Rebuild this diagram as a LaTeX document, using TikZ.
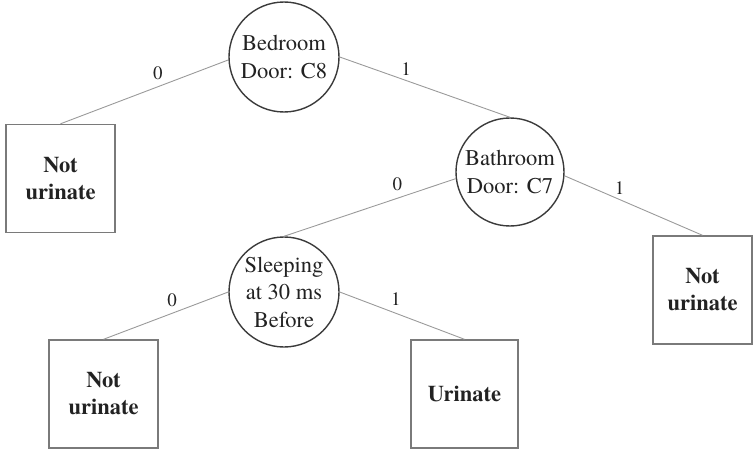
\documentclass[tikz,border=0pt]{standalone}
\usepackage{fontspec}
\setmainfont{texgyretermes}[Extension=.otf, UprightFont=*-regular, BoldFont=*-bold, ItalicFont=*-italic, BoldItalicFont=*-bolditalic]
\definecolor{edgegray}{HTML}{9A9A9A}
\definecolor{circgray}{HTML}{3A3A3A}
\definecolor{boxgray}{HTML}{7A7A7A}
\definecolor{txtgray}{HTML}{222222}
\tikzset{
  decnode/.style={circle, draw=circgray, line width=1.4pt, minimum size=110pt, inner sep=0pt,
    align=center, text=txtgray, font=\fontsize{22.5}{27.5}\selectfont},
  leafnode/.style={rectangle, draw=boxgray, line width=1.4pt, minimum width=109pt, minimum height=108pt,
    inner sep=0pt, align=center, text=txtgray, font=\fontsize{22.5}{27}\selectfont\bfseries},
  conn/.style={draw=edgegray, line width=0.9pt},
  lbl/.style={text=txtgray, font=\fontsize{19}{22}\selectfont, inner sep=2pt}
}
\begin{document}
\begin{tikzpicture}[x=1pt,y=-1pt]
\useasboundingbox (0,0) rectangle (753,452);
\node[decnode] (bed) at (284,57) {Bedroom\\Door: C8};
\node[decnode, minimum size=108pt] (bath) at (510,172) {Bathroom\\Door: C7};
\node[decnode] (sleep) at (284,292) {Sleeping\\at 30 ms\\Before};
\node[leafnode] (nu1) at (60.5,178.5) {Not\\urinate};
\node[leafnode, minimum width=99pt] (nu2) at (702.5,290) {Not\\urinate};
\node[leafnode] (nu3) at (103.5,394) {Not\\urinate};
\node[leafnode, minimum width=107pt] (ur) at (464.5,394) {Urinate};
\draw[conn] (bed.183) -- node[lbl, pos=0.42, above=5pt] {0} (nu1.north);
\draw[conn] (bed.east) -- node[lbl, pos=0.39, above=3pt] {1} (bath.north);
\draw[conn] (bath.187) -- node[lbl, pos=0.34, above=5pt] {0} (sleep.north);
\draw[conn] (bath.-4) -- node[lbl, pos=0.4, above=3pt] {1} (nu2.north);
\draw[conn] (sleep.west) -- node[lbl, pos=0.45, above=4pt] {0} (nu3.north);
\draw[conn] (sleep.east) -- node[lbl, pos=0.45, above=5pt] {1} (ur.north);
\end{tikzpicture}
\end{document}
